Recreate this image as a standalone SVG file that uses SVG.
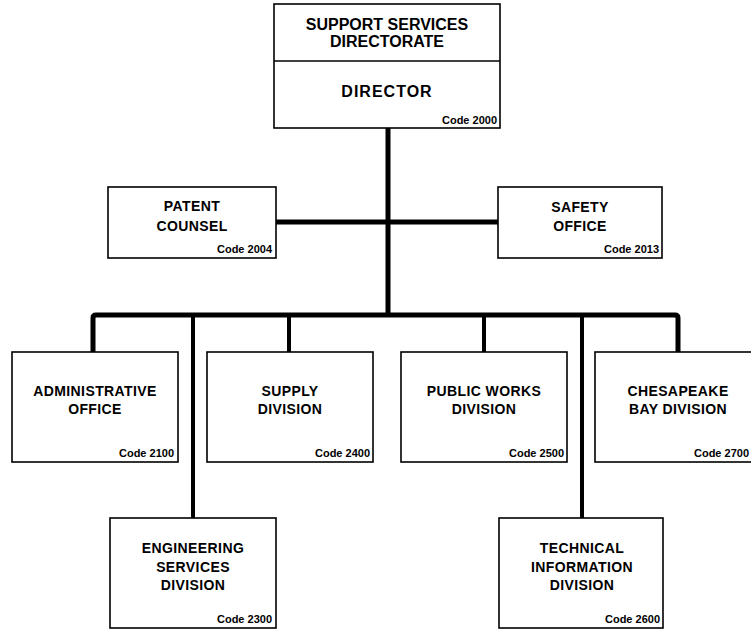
<svg xmlns="http://www.w3.org/2000/svg" width="751" height="630" viewBox="0 0 751 630">
<style>
.box{fill:#fff;stroke:#000;stroke-width:1.6}
.t{font-family:"Liberation Sans",Arial,sans-serif;font-weight:bold;font-size:14px;text-anchor:middle;fill:#000;letter-spacing:0.4px}
.big{font-size:16px;letter-spacing:0}
.code{font-family:"Liberation Sans",Arial,sans-serif;font-weight:bold;font-size:11px;text-anchor:end;fill:#000}
.c{fill:none;stroke:#000;stroke-width:5;stroke-linejoin:round}
.d{fill:none;stroke:#000;stroke-width:4}
</style>
<rect width="751" height="630" fill="#fff"/>
<g id="connectors">
<line class="c" x1="388" y1="128" x2="388" y2="315"/>
<line class="c" x1="276" y1="222" x2="498" y2="222"/>
<path class="c" d="M93,352 V318 Q93,315 96,315 H675 Q678,315 678,318 V352"/>
<line class="d" x1="193" y1="315" x2="193" y2="518"/>
<line class="d" x1="289" y1="315" x2="289" y2="352"/>
<line class="d" x1="484" y1="315" x2="484" y2="352"/>
<line class="d" x1="582" y1="315" x2="582" y2="518"/>
</g>
<g id="directorate">
<rect class="box" x="274" y="4" width="226" height="124"/>
<line x1="274" y1="61" x2="500" y2="61" stroke="#000" stroke-width="1.6"/>
<text class="t big" x="387" y="30">SUPPORT SERVICES</text>
<text class="t big" x="387" y="47">DIRECTORATE</text>
<text class="t big" x="387" y="97" style="letter-spacing:1px">DIRECTOR</text>
<text class="code" x="497" y="124">Code 2000</text>
</g>
<g id="patent">
<rect class="box" x="108" y="187" width="168" height="71"/>
<text class="t" x="192" y="211">PATENT</text>
<text class="t" x="192" y="231">COUNSEL</text>
<text class="code" x="272" y="253">Code 2004</text>
</g>
<g id="safety">
<rect class="box" x="498" y="187" width="164" height="71"/>
<text class="t" x="580" y="212">SAFETY</text>
<text class="t" x="580" y="231">OFFICE</text>
<text class="code" x="659" y="253">Code 2013</text>
</g>
<g id="admin">
<rect class="box" x="12" y="352" width="166" height="110"/>
<text class="t" x="95" y="396">ADMINISTRATIVE</text>
<text class="t" x="95" y="414">OFFICE</text>
<text class="code" x="174" y="457">Code 2100</text>
</g>
<g id="supply">
<rect class="box" x="207" y="352" width="166" height="110"/>
<text class="t" x="290" y="396">SUPPLY</text>
<text class="t" x="290" y="414">DIVISION</text>
<text class="code" x="370" y="457">Code 2400</text>
</g>
<g id="publicworks">
<rect class="box" x="401" y="352" width="166" height="110"/>
<text class="t" x="484" y="396">PUBLIC WORKS</text>
<text class="t" x="484" y="414">DIVISION</text>
<text class="code" x="564" y="457">Code 2500</text>
</g>
<g id="chesapeake">
<rect class="box" x="595" y="352" width="168" height="110"/>
<text class="t" x="678" y="396">CHESAPEAKE</text>
<text class="t" x="678" y="414">BAY DIVISION</text>
<text class="code" x="749" y="457">Code 2700</text>
</g>
<g id="engineering">
<rect class="box" x="110" y="518" width="166" height="110"/>
<text class="t" x="193" y="553">ENGINEERING</text>
<text class="t" x="193" y="572">SERVICES</text>
<text class="t" x="193" y="590">DIVISION</text>
<text class="code" x="272" y="623">Code 2300</text>
</g>
<g id="technical">
<rect class="box" x="499" y="518" width="164" height="110"/>
<text class="t" x="582" y="553">TECHNICAL</text>
<text class="t" x="582" y="572">INFORMATION</text>
<text class="t" x="582" y="590">DIVISION</text>
<text class="code" x="660" y="623">Code 2600</text>
</g>
</svg>
